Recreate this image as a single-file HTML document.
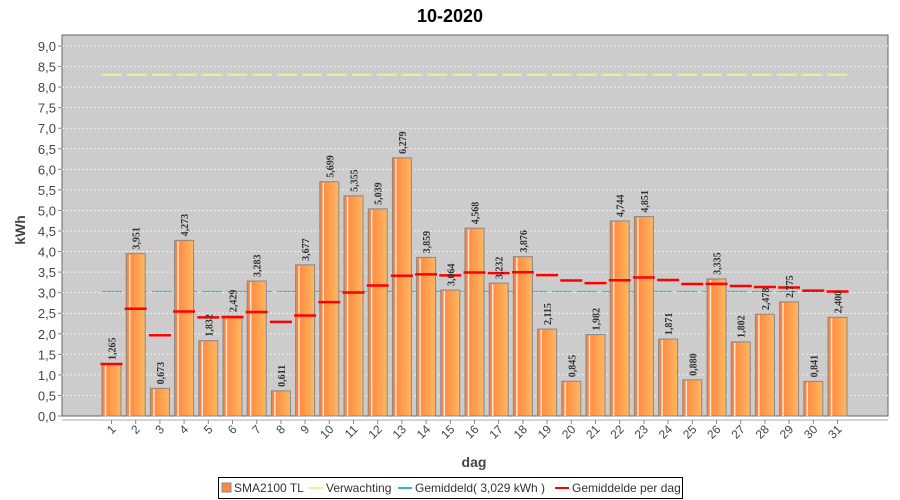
<!DOCTYPE html><html><head><style>body{margin:0;background:#fff}svg{display:block;font-family:"Liberation Sans",sans-serif}</style></head><body>
<svg id="s" width="900" height="500" xmlns="http://www.w3.org/2000/svg">
<defs><linearGradient id="g" x1="0" x2="1"><stop offset="0" stop-color="#ff7f3a"/><stop offset="1" stop-color="#ffb860"/></linearGradient></defs>
<text x="450" y="22" font-size="18" font-weight="bold" text-anchor="middle">10-2020</text>
<rect x="62" y="35" width="826" height="381" fill="#cccccc" stroke="#666" stroke-width="1"/>
<g id="c"></g>
<text transform="translate(25,230) rotate(-90)" font-size="14" font-weight="bold" fill="#444" text-anchor="middle">kWh</text>
<text x="474" y="467" font-size="14" font-weight="bold" fill="#444" text-anchor="middle">dag</text>
<rect x="218.5" y="477.5" width="464" height="21" fill="#fff" stroke="#000"/>
<rect x="222" y="483" width="9" height="9" fill="#ff8844" stroke="#888"/>
<text x="234" y="492" font-size="12" fill="#333">SMA2100 TL</text>
<line x1="309" y1="488" x2="323" y2="488" stroke="#eeee99" stroke-width="2"/>
<text x="326" y="492" font-size="12" fill="#333">Verwachting</text>
<line x1="398" y1="488" x2="412" y2="488" stroke="#33bbbb" stroke-width="2"/>
<text x="415" y="492" font-size="12" fill="#333">Gemiddeld( 3,029 kWh )</text>
<line x1="555" y1="488" x2="569" y2="488" stroke="#ff0000" stroke-width="2"/>
<text x="572" y="492" font-size="12" fill="#333">Gemiddelde per dag</text>
</svg>
<script>
var d=[1.265,3.951,0.673,4.273,1.832,2.429,3.283,0.611,3.677,5.699,5.355,5.039,6.279,3.859,3.064,4.568,3.232,3.876,2.115,0.845,1.982,4.744,4.851,1.871,0.880,3.335,1.802,2.478,2.775,0.841,2.400];
var Y=v=>416-v*41.11,X=i=>111.5+i*24.2,h='';
for(var k=0;k<=18;k++){var v=k*0.5,y=Y(v);if(k>0)h+=`<line x1="62" x2="888" y1="${y}" y2="${y}" stroke="#eee" stroke-dasharray="2,2" stroke-width="1"/>`;h+=`<text x="56" y="${y+5}" font-size="13" fill="#444" text-anchor="end">${v.toFixed(1).replace('.',',')}</text><line x1="58" x2="62" y1="${y}" y2="${y}" stroke="#888"/>`;}
h+=`<line x1="62" x2="888" y1="420" y2="420" stroke="#aaa"/>`;
h+=`<line x1="102" x2="850" y1="${Y(8.3)}" y2="${Y(8.3)}" stroke="#eeee99" stroke-width="2" stroke-dasharray="20,5"/>`;
h+=`<line x1="102" x2="850" y1="${Y(3.029)}" y2="${Y(3.029)}" stroke="#4db8b8" stroke-width="1.2" stroke-dasharray="20,5"/>`;
var s=0;
d.forEach((v,i)=>{var x=X(i),y=Y(v);s+=v;var a=s/(i+1);
h+=`<rect x="${x-9.5}" y="${y}" width="19" height="${416-y}" fill="url(#g)" stroke="#888"/><line x1="${x-6}" x2="${x-6}" y1="${y+1}" y2="416" stroke="#fff" stroke-width="1.5" opacity=".8"/>`;
h+=`<line x1="${x-11}" x2="${x+11}" y1="${Y(a)}" y2="${Y(a)}" stroke="#ff0000" stroke-width="2.5"/>`;
h+=`<text transform="translate(${x+4},${y-4}) rotate(-90)" font-family="Liberation Serif" font-size="10" font-weight="bold" fill="#333">${v.toFixed(3).replace('.',',')}</text>`;
h+=`<line x1="${x}" x2="${x}" y1="420" y2="424" stroke="#888"/><text transform="translate(${x+5},${430}) rotate(-45)" font-size="12" fill="#444" text-anchor="end">${i+1}</text>`;});
document.getElementById('c').innerHTML=h;
</script></body></html>
